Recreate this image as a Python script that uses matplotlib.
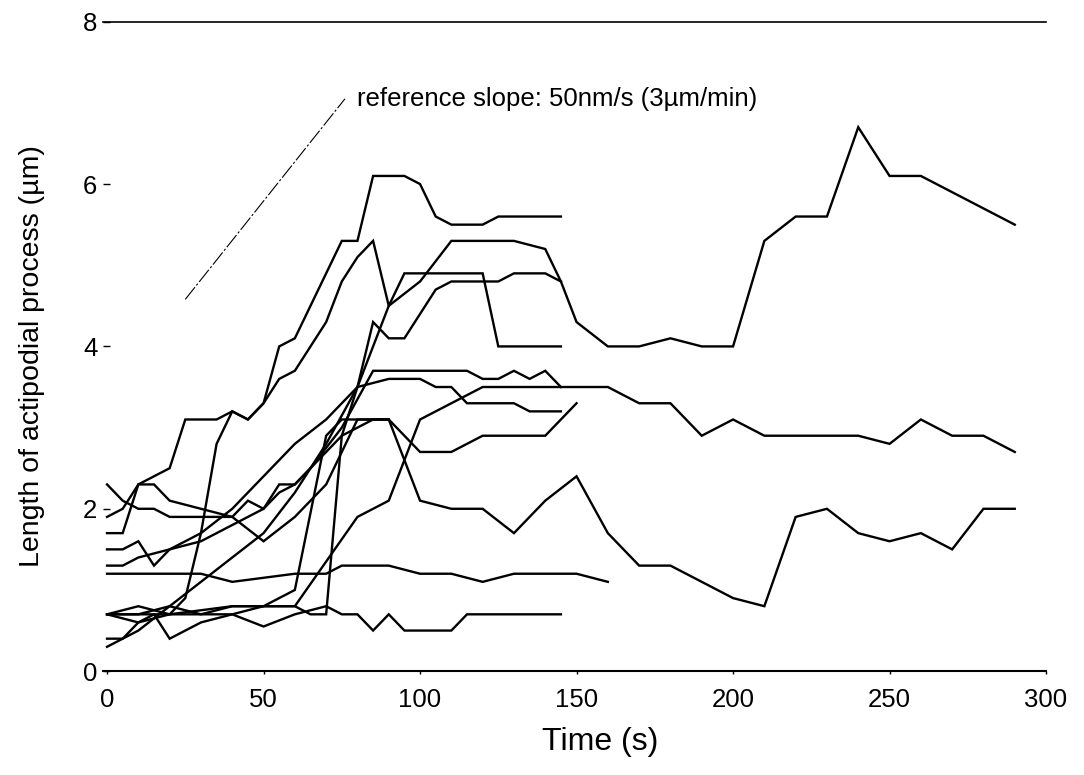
import matplotlib
matplotlib.use("Agg")
import matplotlib.pyplot as plt

plt.rcParams['font.family'] = ['Liberation Sans', 'DejaVu Sans']

# ---- data (time in s, length in um) ----
t1 = [0, 10, 20, 25, 30, 35, 40, 45, 50, 55, 60, 70, 75, 80, 85, 90, 100, 110, 130, 140, 145, 150, 160, 170, 180, 190, 200, 210, 220, 230, 240, 250, 260, 290]
v1 = [0.7, 0.8, 0.7, 0.9, 1.7, 2.8, 3.2, 3.1, 3.3, 3.6, 3.7, 4.3, 4.8, 5.1, 5.3, 4.5, 4.8, 5.3, 5.3, 5.2, 4.8, 4.3, 4.0, 4.0, 4.1, 4.0, 4.0, 5.3, 5.6, 5.6, 6.7, 6.1, 6.1, 5.5]

t2 = [0, 10, 20, 30, 40, 50, 60, 80, 90, 100, 120, 150, 160, 170, 180, 190, 200, 210, 240, 250, 260, 270, 280, 290]
v2 = [0.7, 0.7, 0.7, 0.75, 0.8, 0.8, 0.8, 1.9, 2.1, 3.1, 3.5, 3.5, 3.5, 3.3, 3.3, 2.9, 3.1, 2.9, 2.9, 2.8, 3.1, 2.9, 2.9, 2.7]

t3 = [0, 10, 20, 30, 40, 50, 60, 70, 75, 90, 100, 110, 120, 130, 140, 150, 160, 170, 180, 190, 200, 210, 220, 230, 240, 250, 260, 270, 280, 290]
v3 = [0.7, 0.7, 0.8, 0.7, 0.8, 0.8, 1.0, 2.9, 3.1, 3.1, 2.1, 2.0, 2.0, 1.7, 2.1, 2.4, 1.7, 1.3, 1.3, 1.1, 0.9, 0.8, 1.9, 2.0, 1.7, 1.6, 1.7, 1.5, 2.0, 2.0]

t4 = [0, 5, 10, 15, 20, 25, 35, 40, 45, 50, 55, 60, 75, 80, 85, 95, 100, 105, 110, 120, 125, 145]
v4 = [1.9, 2.0, 2.3, 2.4, 2.5, 3.1, 3.1, 3.2, 3.1, 3.3, 4.0, 4.1, 5.3, 5.3, 6.1, 6.1, 6.0, 5.6, 5.5, 5.5, 5.6, 5.6]

t5 = [0, 10, 20, 30, 40, 50, 60, 70, 80, 90, 95, 120, 125, 145]
v5 = [0.3, 0.5, 0.8, 1.1, 1.4, 1.7, 2.2, 2.8, 3.5, 4.5, 4.9, 4.9, 4.0, 4.0]

t6 = [0, 10, 20, 30, 40, 50, 60, 65, 70, 75, 80, 85, 90, 95, 105, 110, 125, 130, 140, 145]
v6 = [0.7, 0.6, 0.7, 0.7, 0.7, 0.8, 0.8, 0.7, 0.7, 2.9, 3.5, 4.3, 4.1, 4.1, 4.7, 4.8, 4.8, 4.9, 4.9, 4.8]

t7 = [0, 5, 10, 15, 20, 30, 40, 45, 50, 55, 60, 65, 75, 85, 115, 120, 125, 130, 135, 140, 145]
v7 = [2.3, 2.1, 2.0, 2.0, 1.9, 1.9, 1.9, 2.1, 2.0, 2.3, 2.3, 2.5, 3.0, 3.7, 3.7, 3.6, 3.6, 3.7, 3.6, 3.7, 3.5]

t8 = [0, 5, 10, 15, 20, 30, 40, 50, 60, 70, 80, 90, 100, 105, 110, 115, 130, 135, 145]
v8 = [1.5, 1.5, 1.6, 1.3, 1.5, 1.7, 2.0, 2.4, 2.8, 3.1, 3.5, 3.6, 3.6, 3.5, 3.5, 3.3, 3.3, 3.2, 3.2]

t9 = [0, 5, 10, 15, 20, 30, 40, 50, 60, 70, 80, 90, 100, 110, 120, 140, 150]
v9 = [1.7, 1.7, 2.3, 2.3, 2.1, 2.0, 1.9, 1.6, 1.9, 2.3, 3.1, 3.1, 2.7, 2.7, 2.9, 2.9, 3.3]

t10 = [0, 10, 20, 30, 40, 50, 60, 70, 75, 85, 90, 100, 110, 120, 130, 150, 160]
v10 = [1.2, 1.2, 1.2, 1.2, 1.1, 1.15, 1.2, 1.2, 1.3, 1.3, 1.3, 1.2, 1.2, 1.1, 1.2, 1.2, 1.1]

t11 = [0, 5, 10, 15, 20, 30, 40, 50, 60, 70, 75, 80, 85, 90, 95, 110, 115, 145]
v11 = [0.4, 0.4, 0.6, 0.7, 0.4, 0.6, 0.7, 0.55, 0.7, 0.8, 0.7, 0.7, 0.5, 0.7, 0.5, 0.5, 0.7, 0.7]

t12 = [0, 5, 10, 20, 30, 40, 45, 50, 55, 60, 65, 75, 85, 90]
v12 = [1.3, 1.3, 1.4, 1.5, 1.6, 1.8, 1.9, 2.0, 2.2, 2.3, 2.5, 2.9, 3.1, 3.1]

series_t = [t1, t2, t3, t4, t5, t6, t7, t8, t9, t10, t11, t12]
series_v = [v1, v2, v3, v4, v5, v6, v7, v8, v9, v10, v11, v12]

ref_t = [25, 76]
ref_v = [4.58, 7.05]
ref_label = "reference slope: 50nm/s (3\u00b5m/min)"

x_ticks = [0, 50, 100, 150, 200, 250, 300]
y_ticks = [0, 2, 4, 6, 8]

# ---- figure ----
fig = plt.figure(figsize=(10.84, 7.75), dpi=100)
ax = fig.add_axes([0.095, 0.134, 0.870, 0.838])

for tt, vv in zip(series_t, series_v):
    ax.plot(tt, vv, color='black', lw=1.7, solid_joinstyle='miter')

ax.plot(ref_t, ref_v, color='black', lw=0.8, ls=(0, (14, 2, 2, 2)))
ax.text(80, 7.05, ref_label, fontsize=18.5, va='center', ha='left')

ax.set_xlim(-1.3, 300)
ax.set_ylim(0, 8)
ax.set_xticks(x_ticks)
ax.set_yticks(y_ticks)
ax.tick_params(axis='both', labelsize=18.5, width=1)
ax.tick_params(axis='x', direction='out', length=2, pad=10)
ax.tick_params(axis='y', direction='in', length=5, pad=4)
for s in ['left', 'right']:
    ax.spines[s].set_visible(False)
ax.spines['top'].set_linewidth(1.2)
ax.spines['bottom'].set_linewidth(1.5)

ax.set_xlabel('Time (s)', fontsize=23)
ax.xaxis.set_label_coords(0.527, -0.086)
ax.set_ylabel('Length of actipodial process (\u00b5m)', fontsize=20.5)
ax.yaxis.set_label_coords(-0.062, 0.485)

fig.savefig('out.png', dpi=100)
